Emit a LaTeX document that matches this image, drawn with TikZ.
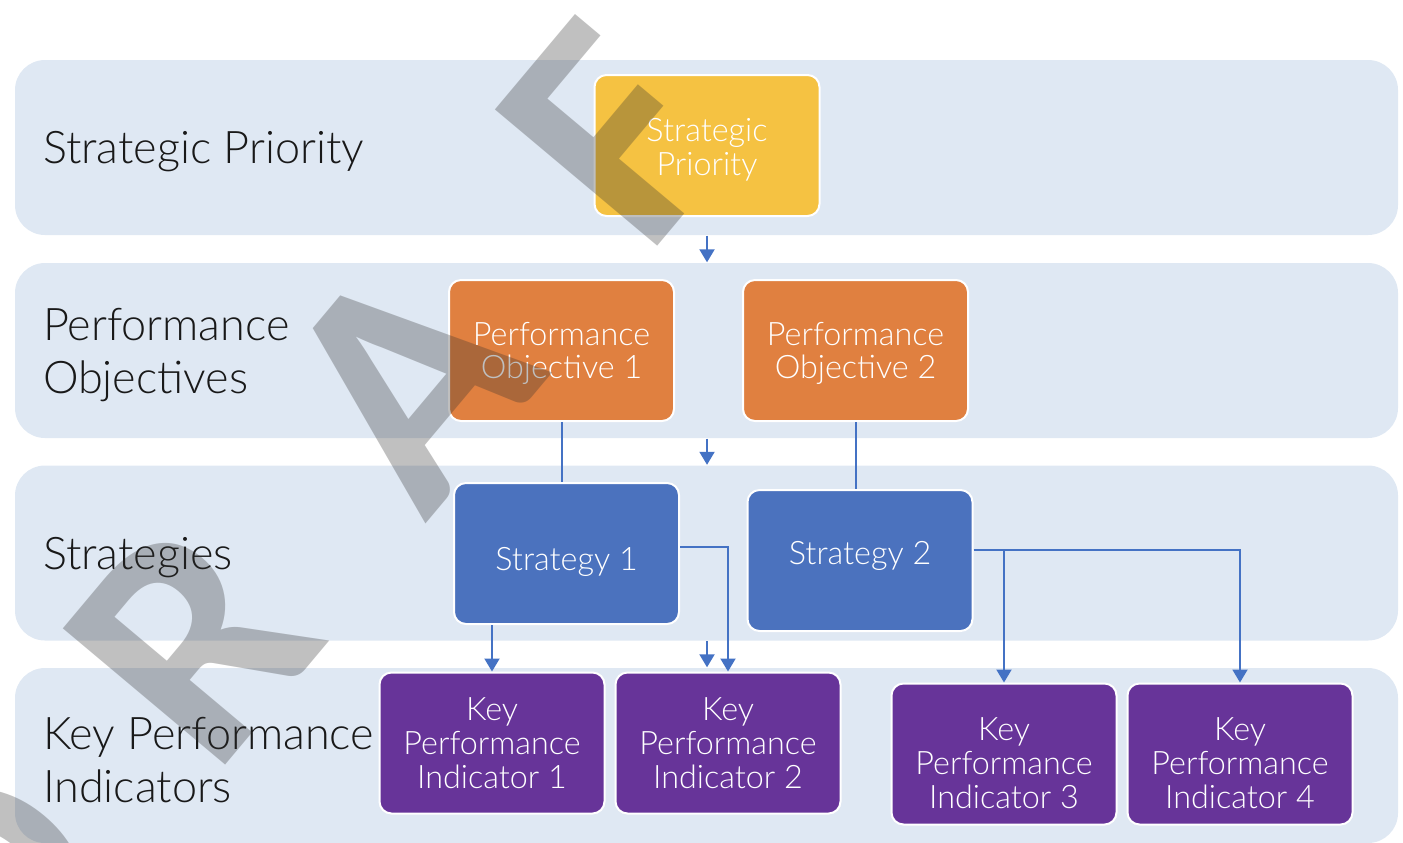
\documentclass[tikz,border=0pt]{standalone}
\usepackage{fontspec}
\setmainfont{Lato Light}
\newfontfamily\stampfont{Carlito}
\usetikzlibrary{arrows.meta, positioning}

\definecolor{bandblue}{HTML}{DFE8F3}
\definecolor{prioyellow}{HTML}{F5C242}
\definecolor{objorange}{HTML}{E08040}
\definecolor{stratblue}{HTML}{4B72BE}
\definecolor{kpipurple}{HTML}{673499}
\definecolor{linkblue}{HTML}{4472C4}

\newcommand\toppad[1]{\rule{0pt}{#1}}

\tikzset{
  band/.style={fill=bandblue, rounded corners=0.3cm, minimum width=13.83cm, minimum height=1.75cm, inner sep=0},
  rowlabel/.style={anchor=west, align=left, yshift=-0.045cm, font=\fontsize{12.8}{15}\selectfont, text=black!90, inner sep=0},
  card/.style={draw=white, line width=0.02cm, rounded corners=0.12cm, minimum width=2.25cm, minimum height=1.41cm, align=center, text=white, font=\fontsize{9.2}{9.6}\selectfont, inner sep=0},
  link/.style={linkblue, line width=0.02cm},
  flow/.style={link, -{Triangle[length=0.13cm, width=0.15cm]}},
  stamp/.style={rotate=50, anchor=base west, inner sep=0, text=black!82, text opacity=0.3, font=\stampfont\bfseries\fontsize{93}{93}\selectfont},
}

\begin{document}
\begin{tikzpicture}
\useasboundingbox (0,0) rectangle (14.03,-8.42);

\node[band] (b1) at (7.065,-1.475) {};
\node[band] (b2) at (7.065,-3.505) {};
\node[band] (b3) at (7.065,-5.53) {};
\node[band] (b4) at (7.065,-7.555) {};

\node[rowlabel, right=0.28cm of b1.west] (l1) {Strategic Priority};
\node[rowlabel, right=0.28cm of b2.west] (l2) {Performance\\Objectives};
\node[rowlabel, right=0.28cm of b3.west] (l3) {Strategies};
\node[rowlabel, right=0.28cm of b4.west] (l4) {Key Performance\\Indicators};

\node[card, fill=prioyellow] (sp) at (7.07,-1.455) {\toppad{9pt}Strategic\\Priority};
\node[card, fill=objorange] (po1) at (5.615,-3.505) {\toppad{8.3pt}Performance\\Objective 1};
\node[card, fill=objorange] (po2) at (8.555,-3.505) {\toppad{8.3pt}Performance\\Objective 2};
\node[card, fill=stratblue] (s1) at (5.665,-5.535) {\raisebox{-0.08cm}[\height][\depth]{Strategy 1}};
\node[card, fill=stratblue] (s2) at (8.60,-5.605) {\raisebox{0.05cm}[\height][\depth]{Strategy 2}};
\node[card, fill=kpipurple] (k1) at (4.92,-7.43) {Key\\Performance\\Indicator 1};
\node[card, fill=kpipurple] (k2) at (7.28,-7.43) {Key\\Performance\\Indicator 2};
\node[card, fill=kpipurple] (k3) at (10.04,-7.54) {\toppad{11.7pt}Key\\Performance\\Indicator 3};
\node[card, fill=kpipurple] (k4) at (12.40,-7.54) {\toppad{11.7pt}Key\\Performance\\Indicator 4};

\coordinate (s1out) at ([yshift=0.065cm]s1.east);
\coordinate (s2out) at ([yshift=0.105cm]s2.east);

\draw[flow] (sp.south |- b1.south) -- (sp.south |- b2.north);
\draw[flow] (sp.south |- b2.south) -- (sp.south |- b3.north);
\draw[flow] (sp.south |- b3.south) -- (sp.south |- b4.north);
\draw[link] (po1.south) -- (po1.south |- s1.north);
\draw[link] (po2.south) -- (po2.south |- s2.north);
\draw[flow] (s1.south -| k1.north) -- (k1.north);
\draw[flow] (s1out) -| (k2.north);
\draw[flow] (s2out) -| (k4.north);
\draw[flow] (s2out -| k3.north) -- (k3.north);

\begin{scope}
\clip (0,0) rectangle (14.03,-8.42);
\foreach \ch/\px/\py in {D/-0.02/-10.37, R/2.13/-7.80, A/4.25/-5.25, F/6.46/-2.60, T/8.65/0.0}
  \node[stamp] (stamp\ch) at (\px,\py) {\ch};
\end{scope}
\end{tikzpicture}
\end{document}
